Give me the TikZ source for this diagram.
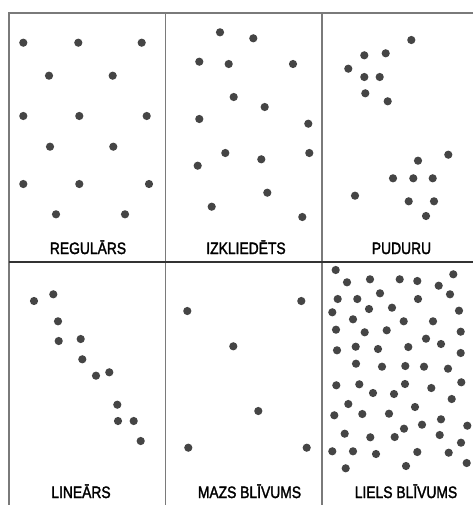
\documentclass[tikz,border=0pt]{standalone}
\usepackage{fontspec}
\setmainfont{Liberation Sans}
\newcommand{\lbtext}[1]{\scalebox{0.84}[1]{\addfontfeature{FakeBold=2}#1}}
\begin{document}
\begin{tikzpicture}[x=1pt,y=-1pt,
  pt/.style={fill=black!73},
  frame/.style={draw=black!52,line width=1.6pt},
  midline/.style={draw=black!80,line width=1.2pt},
  lbl/.style={anchor=base,inner sep=0pt,font=\fontsize{16.5}{18}\selectfont}]
\useasboundingbox (0,0) rectangle (473,505);
% frame
\draw[frame] (473,13) -- (9,13) -- (9,505);
\draw[frame] (165.5,13) -- (165.5,505);
\draw[frame] (322,13) -- (322,505);
\draw[midline] (9,262) -- (473,262);
\def\r{4.1}
% REGULARS
\foreach \x/\y in {23.3/42.7,78.3/42.7,141.7/42.7,49/75.7,112.7/75.7,23.3/116,79.3/116,146.7/116,50/146.7,113.3/146.7,23.3/184,79.3/184,149/184,56/214.3,125/214.3}
  \fill[pt] (\x,\y) circle (\r);
% IZKLIEDETS
\foreach \x/\y in {220/32.3,253.3/38.3,199.3/61.7,228.7/64,293/64,233.7/97,264.7/107,199.3/119,308.3/123.7,225.3/153,261.3/159.3,309.3/153,197.7/165.7,267.3/192.7,211.7/206.7,302.3/217}
  \fill[pt] (\x,\y) circle (\r);
% PUDURU
\foreach \x/\y in {411.3/40,364.3/55.3,385.7/53.3,348.3/68.7,364.3/77,379.7/77,365.3/93.3,387.7/101.3,448.3/154.7,418/160.7,393/178.3,413.3/178.3,432.7/178.3,355/195.7,408.7/201.3,434/201.3,426/216}
  \fill[pt] (\x,\y) circle (\r);
% LINEARS
\foreach \x/\y in {34/301,53.3/294.3,58/321.3,58.7/341,80.7/339,82.3/359.3,96/375.7,109.3/372.3,117.3/404.7,118/421,133.7/421,140.7/441}
  \fill[pt] (\x,\y) circle (\r);
% MAZS BLIVUMS
\foreach \x/\y in {187.3/311,301.3/301,233.3/346.3,258.3/411,188.3/447.7,306.7/447.7}
  \fill[pt] (\x,\y) circle (\r);
% LIELS BLIVUMS
\foreach \x/\y in {335.7/270,347/282.3,370/279.3,399.7/279.3,417.3/281,438.7/285.7,453.3/274.3,380/293.3,337.7/299,357.3/299,418/299,450/294.3,332.3/312.3,369/309,392/307.7,459/310.7,353/319.3,403.7/321.3,433/321.3,336/329.7,364.7/332.3,386.7/330.3,426/338.7,460.7/331.7,355.7/346.7,337/350.3,378/349,408.3/347,441/344,460.7/353,356/363.7,382/366.7,405.3/366,424/366.7,448/368.7,336.3/385.3,359.3/384.3,373/393,394/394,405/384,431.3/388,461.3/382.3,348.3/404,451.7/399,362.3/414,389/413.7,415/407,334.3/415.3,441/419.3,404/428.7,422/424.7,467.3/425.7,344.7/433.7,370.3/437.3,394.7/437,439.7/435,461/442.7,332.3/451.3,353/451.3,376/454,417.3/452,448.7/452.7,466.7/463,345.7/468.3,406/466}
  \fill[pt] (\x,\y) circle (\r);
% labels
\node[lbl] (l1) at (88,254) {\lbtext{REGULĀRS}};
\node[lbl] (l2) at (246,254) {\lbtext{IZKLIEDĒTS}};
\node[lbl] (l3) at (401.5,254) {\lbtext{PUDURU}};
\node[lbl] (l4) at (81,498) {\lbtext{LINEĀRS}};
\node[lbl] (l5) at (249.5,498) {\lbtext{MAZS BLĪVUMS}};
\node[lbl] (l6) at (406,498) {\lbtext{LIELS BLĪVUMS}};
\end{tikzpicture}
\end{document}
